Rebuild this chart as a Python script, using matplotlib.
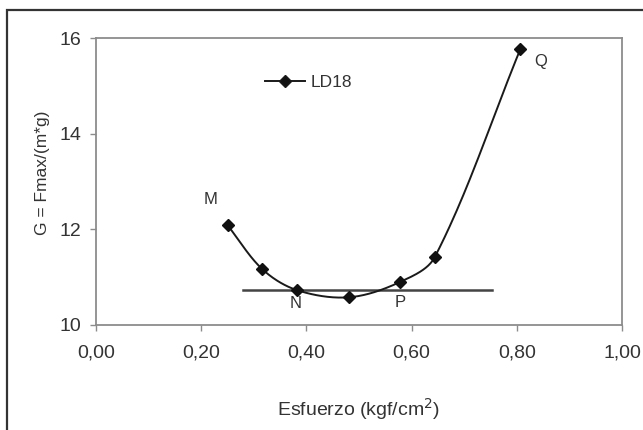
import numpy as np
import matplotlib
matplotlib.use("Agg")
import matplotlib.pyplot as plt
from matplotlib.patches import Rectangle
from matplotlib.ticker import FuncFormatter

plt.rcParams['font.family'] = ['Liberation Sans', 'DejaVu Sans']

# Data
esfuerzo = [0.250, 0.316, 0.382, 0.481, 0.578, 0.644, 0.807]
g_values = [12.09, 11.17, 10.73, 10.58, 10.90, 11.42, 15.78]
series_name = "LD18"
ref_x = [0.279, 0.752]
ref_y = [10.73, 10.73]
point_labels = ["M", "N", "P", "Q"]
point_label_x = [0.217, 0.380, 0.578, 0.845]
point_label_y = [12.63, 10.46, 10.47, 15.52]
x_ticks = [0.0, 0.2, 0.4, 0.6, 0.8, 1.0]
y_ticks = [10, 12, 14, 16]


def smooth_curve(pts, n=40):
    """Excel-like smoothed line: cubic Bezier with chord-length scaled tangents."""
    p = np.asarray(pts, float)
    m = len(p)
    d = np.linalg.norm(np.diff(p, axis=0), axis=1)
    tang = np.zeros_like(p)
    for i in range(m):
        a = p[max(i - 1, 0)]
        b = p[min(i + 1, m - 1)]
        tang[i] = b - a
    out = []
    t = np.linspace(0, 1, n)[:, None]
    for i in range(m - 1):
        p0, p3 = p[i], p[i + 1]
        s1 = d[i] / (d[i - 1] + d[i]) if i > 0 else 1.0
        s2 = d[i] / (d[i] + d[i + 1]) if i + 1 < m - 1 else 1.0
        c1 = p0 + tang[i] * s1 / 3
        c2 = p3 - tang[i + 1] * s2 / 3
        b = (1 - t) ** 3 * p0 + 3 * (1 - t) ** 2 * t * c1 + 3 * (1 - t) * t ** 2 * c2 + t ** 3 * p3
        out.append(b)
    return np.vstack(out)


fig = plt.figure(figsize=(6.43, 4.30), dpi=100)
W, H = 643, 430
ax = fig.add_axes([96 / W, 1 - 325 / H, (622 - 96) / W, (325 - 38.3) / H])
ax.set_xlim(0, 1)
ax.set_ylim(10, 16)

# outer frame
fig.patches.append(Rectangle((7 / W, -0.05), 1.2, 1 - 10 / H + 0.05,
                             transform=fig.transFigure, fill=False,
                             edgecolor='#333333', linewidth=1.6))

disp = ax.transData.transform(np.column_stack([esfuerzo, g_values]))
curve = ax.transData.inverted().transform(smooth_curve(disp))
ax.plot(curve[:, 0], curve[:, 1], color='#1a1a1a', linewidth=1.4, zorder=3)
ax.plot(esfuerzo, g_values, linestyle='none', marker='D', markersize=6.5,
        color='#111111', zorder=4)
ax.plot(ref_x, ref_y, color='#444444', linewidth=1.8, zorder=2)

# legend proxy
ax.plot([], [], color='#1a1a1a', linewidth=1.4, marker='D', markersize=6.5,
        markerfacecolor='#111111', label=series_name)
ax.legend(loc='center left', bbox_to_anchor=((265 - 96) / 526, (325 - 82.3) / 286.7),
          frameon=False, borderpad=0, borderaxespad=0, handlelength=2.3,
          handletextpad=0.3, fontsize=12.5, labelcolor='#333333')

for lab, lx, ly in zip(point_labels, point_label_x, point_label_y):
    ax.text(lx, ly, lab, ha='center', va='center', fontsize=12, color='#333333')

ax.set_xticks(x_ticks)
ax.set_yticks(y_ticks)
ax.xaxis.set_major_formatter(FuncFormatter(lambda v, p: f"{v:.2f}".replace('.', ',')))
ax.yaxis.set_major_formatter(FuncFormatter(lambda v, p: f"{v:.0f}"))
for s in ax.spines.values():
    s.set_color('#8c8c8c')
    s.set_linewidth(1.3)
ax.tick_params(axis='both', direction='out', length=4.3, width=1.0, color='#8c8c8c',
               labelsize=14, labelcolor='#333333')
ax.tick_params(axis='y', pad=6)
ax.tick_params(axis='x', pad=10)

ax.set_xlabel("Esfuerzo (kgf/cm$^{2}$)", fontsize=14, color='#333333')
ax.xaxis.set_label_coords(0.5, -(396 - 325) / 286.7)
ax.set_ylabel("G = Fmax/(m*g)", fontsize=12.5, color='#333333')
ax.yaxis.set_label_coords(-(96 - 50) / 526, (325 - 173) / 286.7)

fig.savefig("out.png", dpi=100)
